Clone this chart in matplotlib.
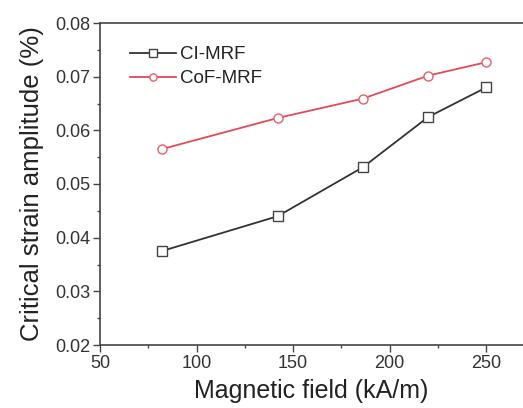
import numpy as np
import matplotlib.pyplot as plt
from matplotlib.ticker import MultipleLocator

plt.rcParams['font.family'] = ['Liberation Sans', 'DejaVu Sans']

# field values (kA/m) and critical strain amplitude (%)
field = [82, 142, 186, 220, 250]
ci_mrf = [0.0375, 0.0440, 0.0531, 0.0625, 0.0680]
cof_mrf = [0.0565, 0.0623, 0.0659, 0.0702, 0.0727]

fig = plt.figure(figsize=(5.23, 4.08), dpi=100)
ax = fig.add_axes([100 / 523, 1 - 345 / 408, 1 - 100 / 523, (345 - 23) / 408])

ax.plot(field, ci_mrf, color='#333333', lw=1.3, marker='s', ms=6.5,
        mfc='white', mec='#444444', mew=1.0, label='CI-MRF')
ax.plot(field, cof_mrf, color='#e34a55', lw=1.3, marker='o', ms=6.5,
        mfc='white', mec='#e8606a', mew=1.0, label='CoF-MRF')

ax.set_xlim(50, 269)
ax.set_ylim(0.02, 0.08)
ax.xaxis.set_major_locator(MultipleLocator(50))
ax.xaxis.set_minor_locator(MultipleLocator(25))
ax.yaxis.set_major_locator(MultipleLocator(0.01))
ax.yaxis.set_minor_locator(MultipleLocator(0.005))
ax.yaxis.set_major_formatter(plt.FormatStrFormatter('%.2f'))

for s in ['left', 'bottom', 'top']:
    ax.spines[s].set_color('#444444')
    ax.spines[s].set_linewidth(1.2)
ax.spines['right'].set_visible(False)
ax.tick_params(which='major', direction='out', length=5, width=1, pad=2,
               color='#444444', labelsize=13, labelcolor='#333333', top=False)
ax.tick_params(which='minor', direction='out', length=2.5, width=1,
               color='#444444', top=False)

ax.set_xlabel('Magnetic field (kA/m)', fontsize=18, color='#222222', labelpad=5)
ax.set_ylabel('Critical strain amplitude (%)', fontsize=18.5, color='#222222', labelpad=8)

ax.legend(loc='upper left', bbox_to_anchor=(0.03, 0.98), frameon=False,
          fontsize=13.5, handlelength=2.5, handletextpad=0.2, labelspacing=0.35,
          labelcolor='#222222', markerscale=0.8)

plt.savefig('out.png', dpi=100)
